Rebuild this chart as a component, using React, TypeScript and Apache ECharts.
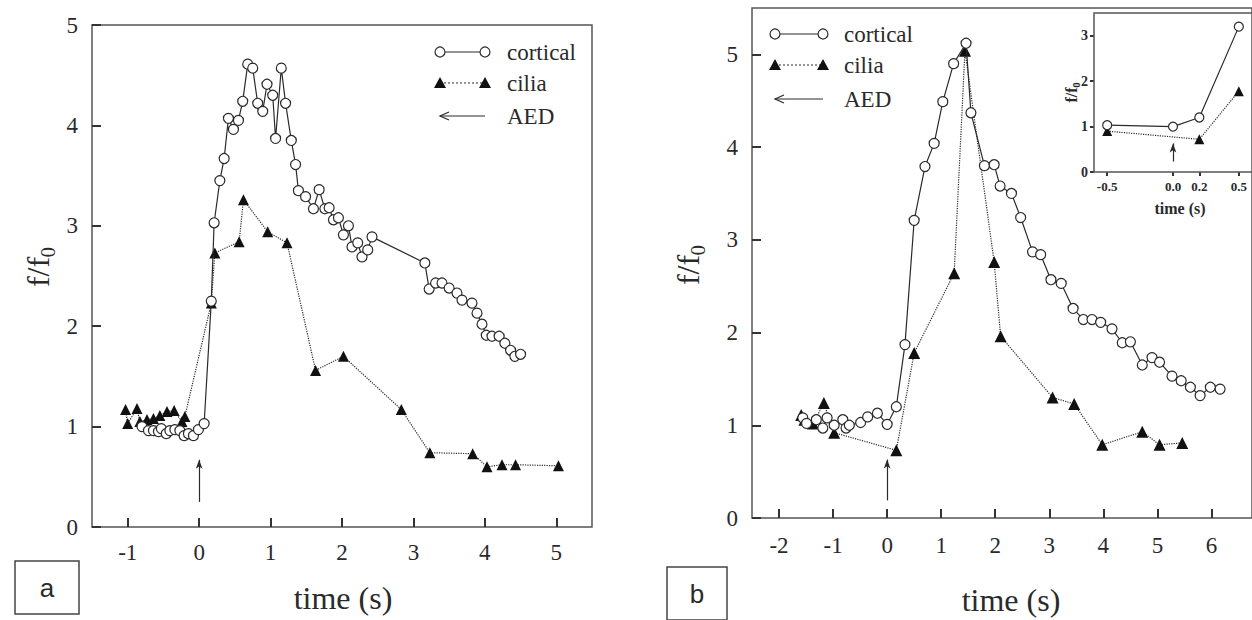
import React, { useEffect, useRef } from "react";
import * as echarts from "echarts";

// ---------- Data ----------
// Panel a
const aCortical: [number, number][] = [
  [-0.8, 1.0], [-0.71, 0.96], [-0.64, 0.96], [-0.57, 0.95], [-0.53, 0.98], [-0.46, 0.93],
  [-0.41, 0.96], [-0.34, 0.97], [-0.27, 0.96], [-0.21, 0.91], [-0.15, 0.93], [-0.08, 0.91],
  [-0.01, 0.97], [0.07, 1.03], [0.17, 2.25], [0.21, 3.03], [0.29, 3.45], [0.35, 3.67],
  [0.41, 4.07], [0.48, 3.96], [0.55, 4.05], [0.61, 4.24], [0.68, 4.61], [0.75, 4.57],
  [0.82, 4.22], [0.89, 4.14], [0.95, 4.41], [1.03, 4.3], [1.07, 3.87], [1.15, 4.57],
  [1.21, 4.22], [1.29, 3.85], [1.35, 3.61], [1.39, 3.35], [1.49, 3.29], [1.6, 3.17],
  [1.68, 3.36], [1.76, 3.17], [1.82, 3.18], [1.88, 3.06], [1.95, 3.08], [2.02, 2.91],
  [2.09, 3.0], [2.14, 2.79], [2.22, 2.83], [2.28, 2.69], [2.36, 2.76], [2.42, 2.89],
  [3.16, 2.63], [3.22, 2.37], [3.31, 2.43], [3.4, 2.43], [3.5, 2.38], [3.61, 2.33],
  [3.68, 2.26], [3.82, 2.23], [3.89, 2.13], [3.96, 2.02], [4.02, 1.91], [4.1, 1.9],
  [4.2, 1.9], [4.28, 1.83], [4.36, 1.76], [4.42, 1.7], [4.5, 1.72],
];
const aCilia: [number, number][] = [
  [-1.03, 1.17], [-1.0, 1.03], [-0.87, 1.18], [-0.83, 1.05], [-0.73, 1.07], [-0.64, 1.08],
  [-0.55, 1.11], [-0.45, 1.15], [-0.35, 1.16], [-0.24, 1.05], [-0.2, 1.1], [0.17, 2.23],
  [0.22, 2.73], [0.56, 2.84], [0.62, 3.26], [0.96, 2.94], [1.23, 2.83], [1.63, 1.56],
  [2.02, 1.7], [2.83, 1.17], [3.23, 0.74], [3.83, 0.73], [4.03, 0.6], [4.24, 0.62],
  [4.43, 0.62], [5.03, 0.61],
];
const aXTicks = [-1, 0, 1, 2, 3, 4, 5];
const aYTicks = [0, 1, 2, 3, 4, 5];
const aArrow: [number, number][] = [[0, 0.25], [0, 0.67]];

// Panel b
const bCortical: [number, number][] = [
  [-1.56, 1.08], [-1.49, 1.02], [-1.31, 1.06], [-1.19, 0.97], [-1.11, 1.08], [-0.98, 1.0],
  [-0.82, 1.06], [-0.76, 0.97], [-0.7, 1.0], [-0.49, 1.03], [-0.36, 1.09], [-0.18, 1.13],
  [0.0, 1.01], [0.17, 1.2], [0.33, 1.87], [0.5, 3.21], [0.7, 3.79], [0.87, 4.04],
  [1.03, 4.49], [1.23, 4.9], [1.46, 5.12], [1.55, 4.37], [1.8, 3.8], [1.98, 3.81],
  [2.09, 3.58], [2.3, 3.5], [2.47, 3.24], [2.69, 2.87], [2.84, 2.84], [3.03, 2.57],
  [3.22, 2.53], [3.44, 2.26], [3.63, 2.14], [3.79, 2.14], [3.95, 2.11], [4.16, 2.04],
  [4.35, 1.89], [4.5, 1.9], [4.72, 1.65], [4.9, 1.73], [5.04, 1.68], [5.27, 1.53],
  [5.44, 1.48], [5.61, 1.41], [5.79, 1.32], [5.98, 1.41], [6.16, 1.39],
];
const bCilia: [number, number][] = [
  [-1.59, 1.11], [-1.53, 1.06], [-1.37, 1.02], [-1.17, 1.24], [-0.98, 0.92], [0.17, 0.73],
  [0.5, 1.78], [1.24, 2.64], [1.44, 5.04], [1.98, 2.76], [2.1, 1.96], [3.06, 1.3],
  [3.46, 1.23], [3.98, 0.79], [4.72, 0.93], [5.04, 0.79], [5.46, 0.81],
];
const bXTicks = [-2, -1, 0, 1, 2, 3, 4, 5, 6];
const bYTicks = [0, 1, 2, 3, 4, 5];
const bArrow: [number, number][] = [[0, 0.19], [0, 0.63]];

// Inset of panel b
const inCortical: [number, number][] = [[-0.5, 1.03], [0.0, 1.0], [0.2, 1.2], [0.5, 3.2]];
const inCilia: [number, number][] = [[-0.5, 0.9], [0.2, 0.72], [0.5, 1.78]];
const inXTicks = [-0.5, 0.0, 0.2, 0.5];
const inYTicks = [0, 1, 2, 3];
const inArrow: [number, number][] = [[0, 0.23], [0, 0.63]];

const SERIF = '"Liberation Serif", "DejaVu Serif", serif';
const SANS = '"Liberation Sans", Arial, sans-serif';
const INK = "#2a2a2a";
const FRAME = "#555";

// axis ranges: [xmin, xmax, ymin, ymax]
const RANGES = [
  [-1.5, 5.5, 0, 5],
  [-2.5, 6.75, 0, 5.5],
  [-0.6, 0.6, 0, 3.5],
];

function corticalSeries(data: [number, number][], idx: number, size: number, arrow: [number, number][]) {
  return {
    type: "line",
    xAxisIndex: idx,
    yAxisIndex: idx,
    data,
    symbol: "circle",
    symbolSize: size,
    itemStyle: { color: "#fff", borderColor: INK, borderWidth: 1.2 },
    lineStyle: { color: INK, width: 1.2 },
    z: 4,
    markLine: {
      silent: true,
      symbol: ["none", "arrow"],
      symbolSize: [5, 9],
      label: { show: false },
      lineStyle: { type: "solid", color: INK, width: 1.2 },
      data: [[{ coord: arrow[0] }, { coord: arrow[1] }]],
    },
  };
}
function ciliaSeries(data: [number, number][], idx: number, size: number) {
  return {
    type: "line",
    xAxisIndex: idx,
    yAxisIndex: idx,
    data,
    symbol: "triangle",
    symbolSize: size,
    itemStyle: { color: "#111" },
    lineStyle: { color: INK, width: 1.2, type: "dotted" },
    z: 3,
  };
}

function xAxis(idx: number, ticks: number[], fontSize: number, margin: number, inside: boolean, fmt?: (v: number) => string, bold?: boolean) {
  return {
    type: "value",
    gridIndex: idx,
    position: "bottom",
    min: RANGES[idx][0],
    max: RANGES[idx][1],
    axisLine: { show: false, onZero: false },
    axisTick: { show: true, inside, length: inside ? 9 : 4, customValues: ticks, lineStyle: { color: "#333", width: 2 } },
    axisLabel: {
      customValues: ticks,
      fontFamily: SERIF,
      fontSize,
      fontWeight: bold ? "bold" : "normal",
      color: INK,
      margin,
      formatter: fmt || ((v: number) => String(v)),
    },
    splitLine: { show: false },
  };
}
function yAxis(idx: number, ticks: number[], fontSize: number, margin: number, inside: boolean, bold?: boolean) {
  return {
    type: "value",
    gridIndex: idx,
    position: "left",
    min: RANGES[idx][2],
    max: RANGES[idx][3],
    axisLine: { show: false, onZero: false },
    axisTick: { show: true, inside, length: inside ? 9 : 4, customValues: ticks, lineStyle: { color: "#333", width: 2 } },
    axisLabel: {
      customValues: ticks,
      fontFamily: SERIF,
      fontSize,
      fontWeight: bold ? "bold" : "normal",
      color: INK,
      margin,
    },
    splitLine: { show: false },
  };
}

function yTitle(x: number, y: number, big: number, small: number, bold: boolean) {
  const w = bold ? "bold " : "";
  return {
    type: "group",
    x,
    y,
    rotation: Math.PI / 2,
    z: 10,
    children: [
      {
        type: "text",
        x: 0,
        y: 0,
        style: { text: "f/f", font: `${w}${big}px ${SERIF}`, fill: INK, textAlign: "center", textVerticalAlign: "middle", align: "center", verticalAlign: "middle" },
      },
      {
        type: "text",
        x: big * 0.45,
        y: big * 0.3,
        style: { text: "0", font: `${w}${small}px ${SERIF}`, fill: INK, textAlign: "left", textVerticalAlign: "middle", align: "left", verticalAlign: "middle" },
      },
    ],
  };
}

function legend(x0: number, x1: number, xt: number, ys: number[], fs: number) {
  const els: any[] = [];
  els.push({ type: "line", shape: { x1: x0, y1: ys[0], x2: x1, y2: ys[0] }, style: { stroke: INK, lineWidth: 1.2 } });
  els.push({ type: "circle", shape: { cx: x0, cy: ys[0], r: 5 }, style: { fill: "#fff", stroke: INK, lineWidth: 1.2 } });
  els.push({ type: "circle", shape: { cx: x1, cy: ys[0], r: 5 }, style: { fill: "#fff", stroke: INK, lineWidth: 1.2 } });
  els.push({ type: "line", shape: { x1: x0, y1: ys[1], x2: x1, y2: ys[1] }, style: { stroke: INK, lineWidth: 1.2, lineDash: [2, 2] } });
  for (const cx of [x0, x1]) {
    els.push({ type: "polygon", shape: { points: [[cx, ys[1] - 6], [cx - 6, ys[1] + 5], [cx + 6, ys[1] + 5]] }, style: { fill: "#111" } });
  }
  els.push({ type: "line", shape: { x1: x0, y1: ys[2], x2: x1, y2: ys[2] }, style: { stroke: INK, lineWidth: 1.2 } });
  els.push({ type: "polyline", shape: { points: [[x0 + 9, ys[2] - 4], [x0, ys[2]], [x0 + 9, ys[2] + 4]] }, style: { stroke: INK, lineWidth: 1.2, fill: null } });
  const labels = ["cortical", "cilia", "AED"];
  labels.forEach((t, i) => {
    els.push({ type: "text", x: xt, y: ys[i], style: { text: t, font: `${fs}px ${SERIF}`, fill: INK, textVerticalAlign: "middle", verticalAlign: "middle" } });
  });
  return els;
}

const centered = (x: number, y: number, text: string, font: string) => ({
  type: "text",
  x,
  y,
  z: 10,
  style: { text, font, fill: INK, textAlign: "center", textVerticalAlign: "middle", align: "center", verticalAlign: "middle" },
});

export default function App() {
  const ref = useRef<HTMLDivElement>(null);
  useEffect(() => {
    if (!ref.current) return;
    const chart = echarts.init(ref.current, null, { renderer: "svg" });
    const option: any = {
      animation: false,
      backgroundColor: "#fff",
      grid: [
        { left: 92, top: 25, width: 500, height: 502, show: true, borderColor: FRAME, borderWidth: 1.5, backgroundColor: "transparent" },
        { left: 752, top: 8, width: 501, height: 510, show: true, borderColor: FRAME, borderWidth: 1.5, backgroundColor: "transparent" },
        { left: 1094, top: 13, width: 161, height: 159, show: true, borderColor: FRAME, borderWidth: 1.5, backgroundColor: "#fff", z: 5 },
      ],
      xAxis: [
        xAxis(0, aXTicks, 23, 14, true),
        xAxis(1, bXTicks, 23, 16, true),
        xAxis(2, inXTicks, 13, 8, false, (v: number) => v.toFixed(1), true),
      ],
      yAxis: [
        yAxis(0, aYTicks, 23, 14, true),
        yAxis(1, bYTicks, 23, 14, true),
        yAxis(2, inYTicks, 14, 6, false, true),
      ],
      series: [
        ciliaSeries(aCilia, 0, 11),
        corticalSeries(aCortical, 0, 10, aArrow),
        ciliaSeries(bCilia, 1, 12),
        corticalSeries(bCortical, 1, 10, bArrow),
        { ...ciliaSeries(inCilia, 2, 10), z: 8 },
        { ...corticalSeries(inCortical, 2, 9, inArrow), z: 9 },
      ],
      graphic: [
        ...legend(440, 485, 507, [52, 83, 116], 23),
        ...legend(775, 823, 844, [34, 65, 99], 23),
        yTitle(38, 272, 32, 21, false),
        yTitle(688, 270, 32, 21, false),
        yTitle(1071, 95, 16, 11, true),
        centered(343, 598, "time (s)", `32px ${SERIF}`),
        centered(1011, 600, "time (s)", `32px ${SERIF}`),
        centered(1180, 208, "time (s)", `bold 16px ${SERIF}`),
        { type: "rect", shape: { x: 15, y: 561, width: 64, height: 53 }, style: { fill: "#fff", stroke: "#444", lineWidth: 1.5 } },
        centered(47, 588, "a", `26px ${SANS}`),
        { type: "rect", shape: { x: 667, y: 567, width: 60, height: 53 }, style: { fill: "#fff", stroke: "#444", lineWidth: 1.5 } },
        centered(697, 594, "b", `26px ${SANS}`),
      ],
    };
    chart.setOption(option);
    return () => chart.dispose();
  }, []);
  return <div ref={ref} style={{ position: "absolute", left: 0, top: 0, width: 1252, height: 620 }} />;
}
